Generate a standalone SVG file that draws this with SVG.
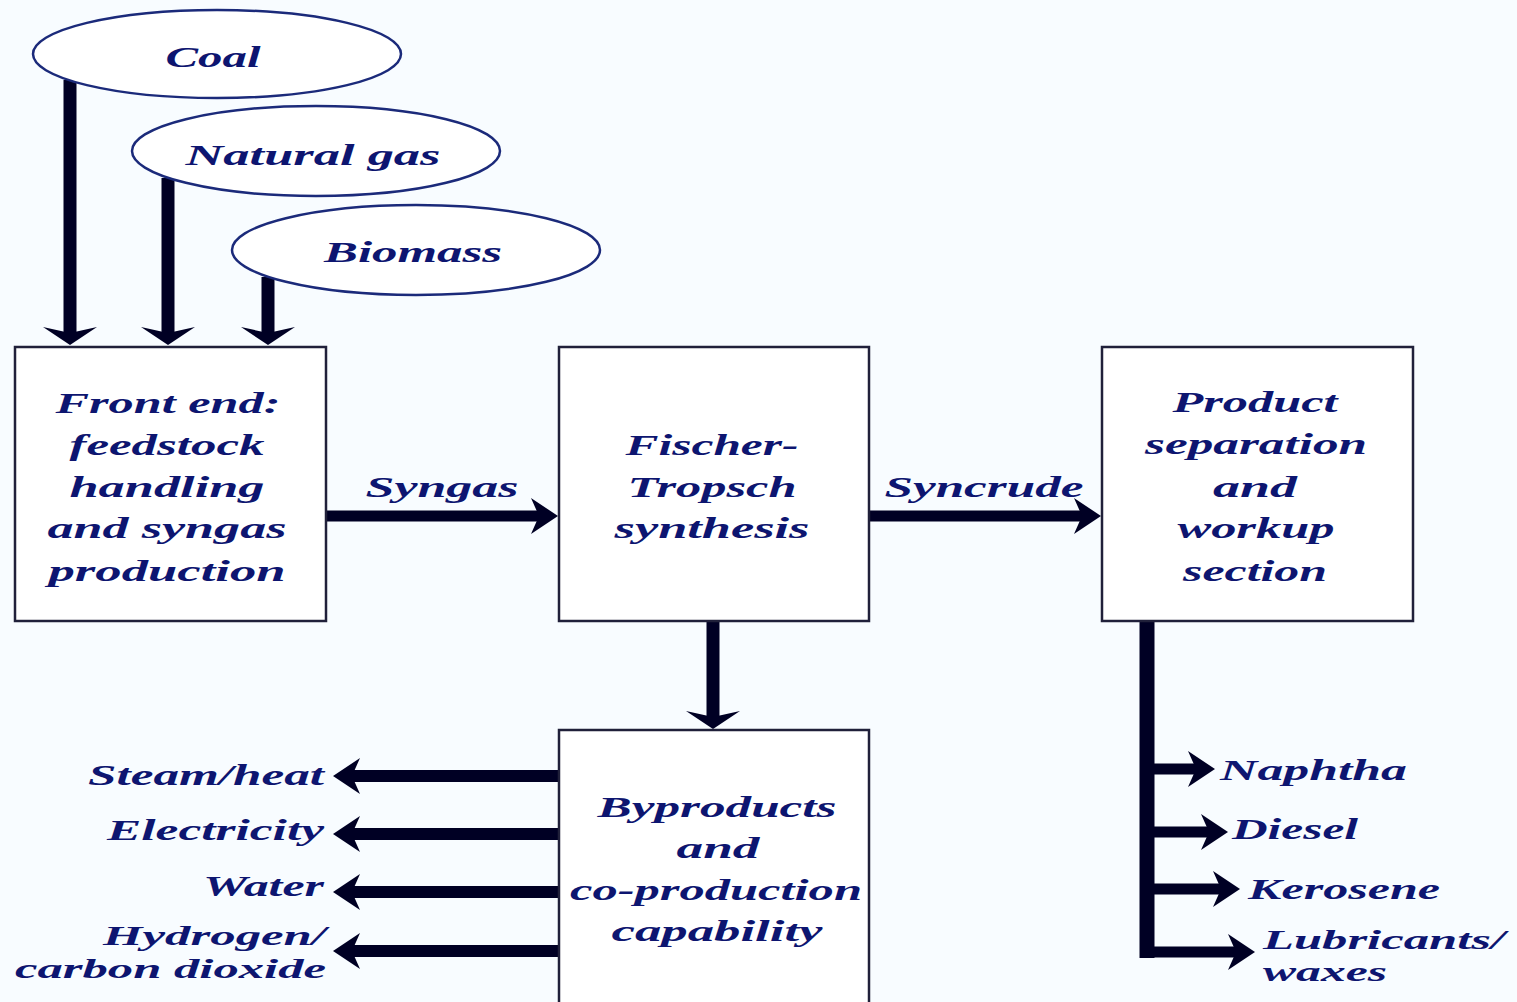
<svg xmlns="http://www.w3.org/2000/svg" width="1517" height="1002" viewBox="0 0 1517 1002">
<style>
  .bg{fill:#f8fcff}
  .box{fill:#ffffff;stroke:#20203a;stroke-width:2.5}
  .ell{fill:#ffffff;stroke:#1b2a7a;stroke-width:2.5}
  text{font-family:"Liberation Serif","DejaVu Serif",serif;font-style:italic;font-weight:bold;font-size:30px;fill:#0d1570}
  .c{text-anchor:middle}
  .r{text-anchor:end}
  .ln{stroke:#000024;fill:none}
  .sm{font-size:28px}
</style>
<defs>
  <marker id="h" markerUnits="userSpaceOnUse" markerWidth="30" markerHeight="38" refX="9" refY="19" orient="auto">
    <path d="M28,19 L1,1 L9,19 L1,37 Z" fill="#000024"/>
  </marker>
  <marker id="v" markerUnits="userSpaceOnUse" markerWidth="20" markerHeight="56" refX="6" refY="28" orient="auto">
    <path d="M18,28 L0,1 L6,28 L0,55 Z" fill="#000024"/>
  </marker>
</defs>
<rect class="bg" x="0" y="0" width="1517" height="1002"/>

<g id="connectors">
  <line class="ln" x1="70" y1="80" x2="70" y2="333" stroke-width="13" marker-end="url(#v)"/>
  <line class="ln" x1="168" y1="178" x2="168" y2="333" stroke-width="13" marker-end="url(#v)"/>
  <line class="ln" x1="268" y1="277" x2="268" y2="333" stroke-width="13" marker-end="url(#v)"/>
  <line class="ln" x1="326" y1="516" x2="539" y2="516" stroke-width="11" marker-end="url(#h)"/>
  <line class="ln" x1="869" y1="516" x2="1082" y2="516" stroke-width="11" marker-end="url(#h)"/>
  <line class="ln" x1="713" y1="621" x2="713" y2="717" stroke-width="13" marker-end="url(#v)"/>
  <line class="ln" x1="559" y1="776" x2="352" y2="776" stroke-width="12" marker-end="url(#h)"/>
  <line class="ln" x1="559" y1="834" x2="352" y2="834" stroke-width="12" marker-end="url(#h)"/>
  <line class="ln" x1="559" y1="892" x2="352" y2="892" stroke-width="12" marker-end="url(#h)"/>
  <line class="ln" x1="559" y1="951" x2="352" y2="951" stroke-width="12" marker-end="url(#h)"/>
  <line class="ln" x1="1147" y1="621" x2="1147" y2="958" stroke-width="15"/>
  <line class="ln" x1="1147" y1="769" x2="1196" y2="769" stroke-width="11" marker-end="url(#h)"/>
  <line class="ln" x1="1147" y1="832" x2="1209" y2="832" stroke-width="11" marker-end="url(#h)"/>
  <line class="ln" x1="1147" y1="889" x2="1221" y2="889" stroke-width="11" marker-end="url(#h)"/>
  <line class="ln" x1="1147" y1="952" x2="1236" y2="952" stroke-width="11" marker-end="url(#h)"/>
  <text class="c" x="442" y="497" textLength="153" lengthAdjust="spacingAndGlyphs">Syngas</text>
  <text class="c" x="984" y="497" textLength="199" lengthAdjust="spacingAndGlyphs">Syncrude</text>
</g>

<g id="coal">
  <ellipse class="ell" cx="217" cy="54" rx="184" ry="44"/>
  <text class="c" x="213" y="67" textLength="95" lengthAdjust="spacingAndGlyphs">Coal</text>
</g>
<g id="natural-gas">
  <ellipse class="ell" cx="316" cy="151" rx="184" ry="45"/>
  <text class="c" x="313" y="165" textLength="255" lengthAdjust="spacingAndGlyphs">Natural gas</text>
</g>
<g id="biomass">
  <ellipse class="ell" cx="416" cy="250" rx="184" ry="45"/>
  <text class="c" x="413" y="262" textLength="178" lengthAdjust="spacingAndGlyphs">Biomass</text>
</g>

<g id="front-end">
  <rect class="box" x="15" y="347" width="311" height="274"/>
  <text class="c" x="168" y="413" textLength="225" lengthAdjust="spacingAndGlyphs">Front end:</text>
  <text class="c" x="167" y="455" textLength="195" lengthAdjust="spacingAndGlyphs">feedstock</text>
  <text class="c" x="167" y="497" textLength="195" lengthAdjust="spacingAndGlyphs">handling</text>
  <text class="c" x="167" y="538" textLength="239" lengthAdjust="spacingAndGlyphs">and syngas</text>
  <text class="c" x="167" y="581" textLength="237" lengthAdjust="spacingAndGlyphs">production</text>
</g>

<g id="fischer-tropsch">
  <rect class="box" x="559" y="347" width="310" height="274"/>
  <text class="c" x="712" y="455" textLength="173" lengthAdjust="spacingAndGlyphs">Fischer-</text>
  <text class="c" x="712" y="497" textLength="169" lengthAdjust="spacingAndGlyphs">Tropsch</text>
  <text class="c" x="712" y="538" textLength="195" lengthAdjust="spacingAndGlyphs">synthesis</text>
</g>

<g id="product-separation">
  <rect class="box" x="1102" y="347" width="311" height="274"/>
  <text class="c" x="1255" y="412" textLength="165" lengthAdjust="spacingAndGlyphs">Product</text>
  <text class="c" x="1256" y="454" textLength="222" lengthAdjust="spacingAndGlyphs">separation</text>
  <text class="c" x="1255" y="497" textLength="84" lengthAdjust="spacingAndGlyphs">and</text>
  <text class="c" x="1256" y="538" textLength="157" lengthAdjust="spacingAndGlyphs">workup</text>
  <text class="c" x="1255" y="581" textLength="144" lengthAdjust="spacingAndGlyphs">section</text>
</g>

<g id="byproducts">
  <rect class="box" x="559" y="730" width="310" height="300"/>
  <text class="c" x="717" y="817" textLength="239" lengthAdjust="spacingAndGlyphs">Byproducts</text>
  <text class="c" x="718" y="858" textLength="83" lengthAdjust="spacingAndGlyphs">and</text>
  <text class="c" x="716" y="900" textLength="292" lengthAdjust="spacingAndGlyphs">co-production</text>
  <text class="c" x="717" y="941" textLength="211" lengthAdjust="spacingAndGlyphs">capability</text>
</g>

<g id="byproduct-outputs">
  <text class="r" x="324" y="785" textLength="236" lengthAdjust="spacingAndGlyphs">Steam/heat</text>
  <text class="r" x="324" y="840" textLength="217" lengthAdjust="spacingAndGlyphs">Electricity</text>
  <text class="r" x="324" y="896" textLength="121" lengthAdjust="spacingAndGlyphs">Water</text>
  <text class="r sm" x="326" y="945" textLength="223" lengthAdjust="spacingAndGlyphs">Hydrogen/</text>
  <text class="r sm" x="326" y="978" textLength="311" lengthAdjust="spacingAndGlyphs">carbon dioxide</text>
</g>

<g id="products">
  <text x="1220" y="780" textLength="187" lengthAdjust="spacingAndGlyphs">Naphtha</text>
  <text x="1232" y="839" textLength="126" lengthAdjust="spacingAndGlyphs">Diesel</text>
  <text x="1248" y="899" textLength="192" lengthAdjust="spacingAndGlyphs">Kerosene</text>
  <text class="sm" x="1263" y="949" textLength="242" lengthAdjust="spacingAndGlyphs">Lubricants/</text>
  <text class="sm" x="1263" y="981" textLength="124" lengthAdjust="spacingAndGlyphs">waxes</text>
</g>
</svg>
